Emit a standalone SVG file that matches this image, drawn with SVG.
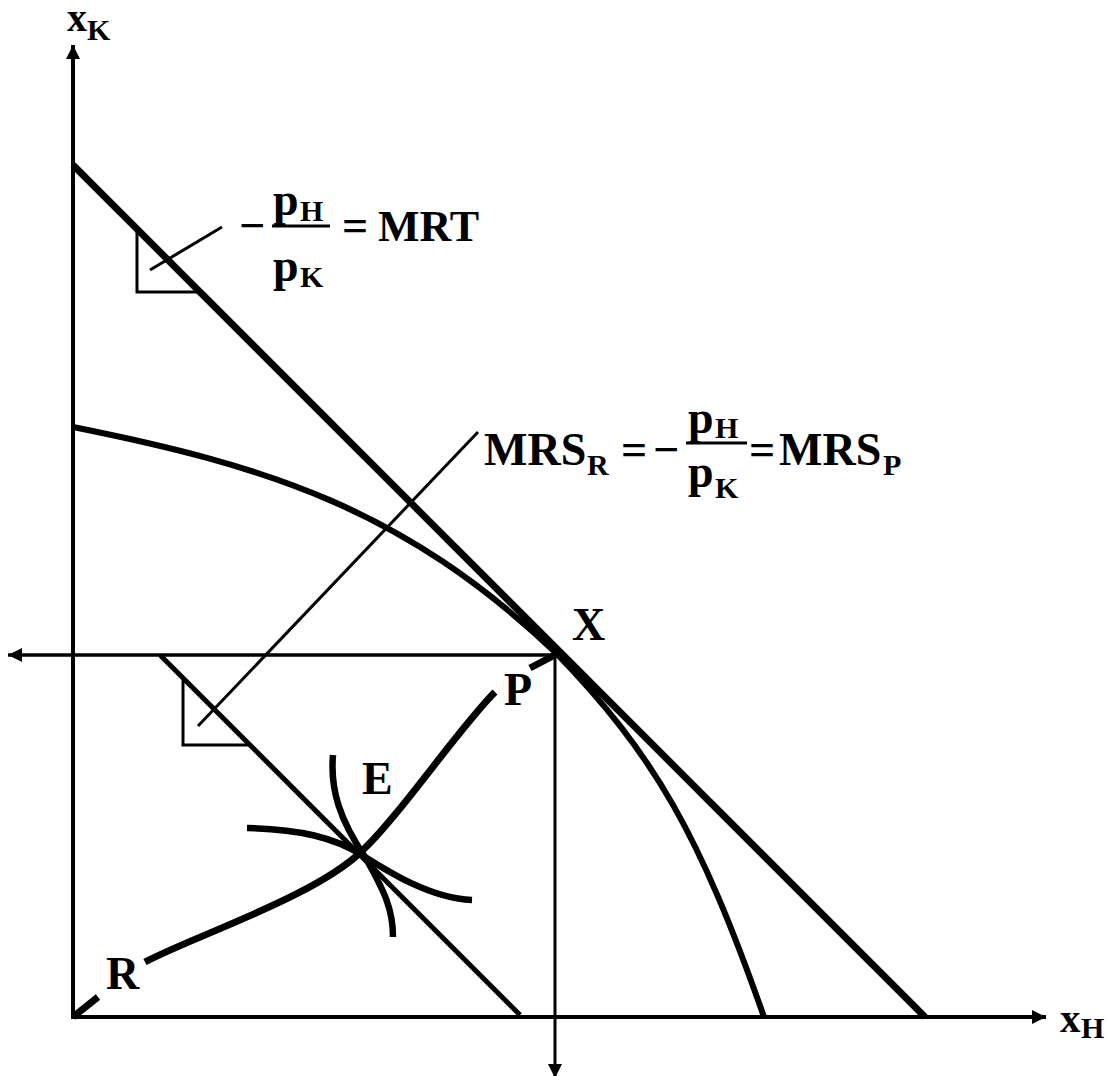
<svg xmlns="http://www.w3.org/2000/svg" width="1108" height="1076" viewBox="0 0 1108 1076">
<style>
.ln{fill:none;stroke:#000;stroke-linecap:butt}
.t{font-family:'Liberation Serif','DejaVu Serif',serif;font-weight:700;fill:#000}
.m{font-size:46px}
.s{font-size:30px}
</style>
<defs>
<marker id="arr" viewBox="0 0 10 10" refX="10" refY="5" markerWidth="14" markerHeight="14" markerUnits="userSpaceOnUse" orient="auto">
<path d="M0,0 L10,5 L0,10 z" fill="#000"/>
</marker>
</defs>
<rect width="1108" height="1076" fill="#fff"/>
<g id="connectors">
<line id="axis-k" class="ln" x1="73" y1="1019" x2="73" y2="45" stroke-width="4" marker-end="url(#arr)"/>
<line id="axis-h" class="ln" x1="71" y1="1017" x2="1046" y2="1017" stroke-width="4" marker-end="url(#arr)"/>
<line id="box-h" class="ln" x1="555" y1="655" x2="8" y2="655" stroke-width="3.5" marker-end="url(#arr)"/>
<line id="box-v" class="ln" x1="555" y1="655" x2="555" y2="1078" stroke-width="3" marker-end="url(#arr)"/>
<line id="price-line" class="ln" x1="73" y1="165" x2="925" y2="1017" stroke-width="7"/>
<path id="ppf" class="ln" d="M73,427 C267,466 403,508 555,652 C655,755 700,835 764,1017" stroke-width="6"/>
<line id="inner-price" class="ln" x1="160" y1="655" x2="520" y2="1015" stroke-width="5"/>
<polyline id="angle-mrt" class="ln" points="137,229 137,292 199,292" stroke-width="3"/>
<polyline id="angle-mrs" class="ln" points="183,680 183,745 248,745" stroke-width="3"/>
<line id="leader-mrt" class="ln" x1="150" y1="270" x2="222" y2="227" stroke-width="3"/>
<line id="leader-mrs" class="ln" x1="198" y1="726" x2="478" y2="432" stroke-width="3"/>
<path id="contract-1" class="ln" d="M73,1017 L98,997" stroke-width="7"/>
<path id="contract-2" class="ln" d="M145,962 C194,936 317,896 363,850 C399.5,815.5 459.6,727.4 495,692" stroke-width="7"/>
<path id="contract-3" class="ln" d="M530,668 L553,656" stroke-width="7"/>
<path id="ic-1" class="ln" d="M247,828 C300,829 335,838 362,855 C389,872 430,898 472,900" stroke-width="6.5"/>
<path id="ic-2" class="ln" d="M333,755 C330,790 340,820 365,857 C385,892 393,910 393,937" stroke-width="6.5"/>
</g>
<g id="label-xk"><text class="t" x="67" y="31" font-size="40">x</text><text class="t s" x="87" y="40">K</text></g>
<g id="label-xh"><text class="t" x="1060" y="1032" font-size="41">x</text><text class="t s" x="1081" y="1038">H</text></g>
<g id="label-x"><text class="t m" x="572" y="640">X</text></g>
<g id="label-p"><text class="t m" x="504" y="705">P</text></g>
<g id="label-e"><text class="t m" x="362" y="794">E</text></g>
<g id="label-r"><text class="t m" x="106" y="989">R</text></g>
<g id="label-mrt">
<text class="t m" x="239" y="241">−</text>
<text class="t m" x="273" y="215">p</text><text class="t s" x="300" y="221">H</text>
<line x1="272" y1="226" x2="330" y2="226" stroke="#000" stroke-width="3"/>
<text class="t m" x="273" y="281">p</text><text class="t s" x="300" y="287">K</text>
<text class="t m" x="342" y="241">=</text>
<text class="t" x="378" y="241" font-size="44">MRT</text>
</g>
<g id="label-mrs">
<text class="t m" x="484" y="465">MRS</text><text class="t s" x="587" y="475">R</text>
<text class="t m" x="621" y="465">=</text>
<text class="t m" x="653" y="465">−</text>
<text class="t m" x="688" y="433">p</text><text class="t s" x="715" y="438">H</text>
<line x1="686" y1="443" x2="747" y2="443" stroke="#000" stroke-width="3"/>
<text class="t m" x="688" y="487">p</text><text class="t s" x="715" y="498">K</text>
<text class="t m" x="749" y="465">=</text>
<text class="t m" x="779" y="465">MRS</text><text class="t s" x="883" y="475">P</text>
</g>
</svg>
